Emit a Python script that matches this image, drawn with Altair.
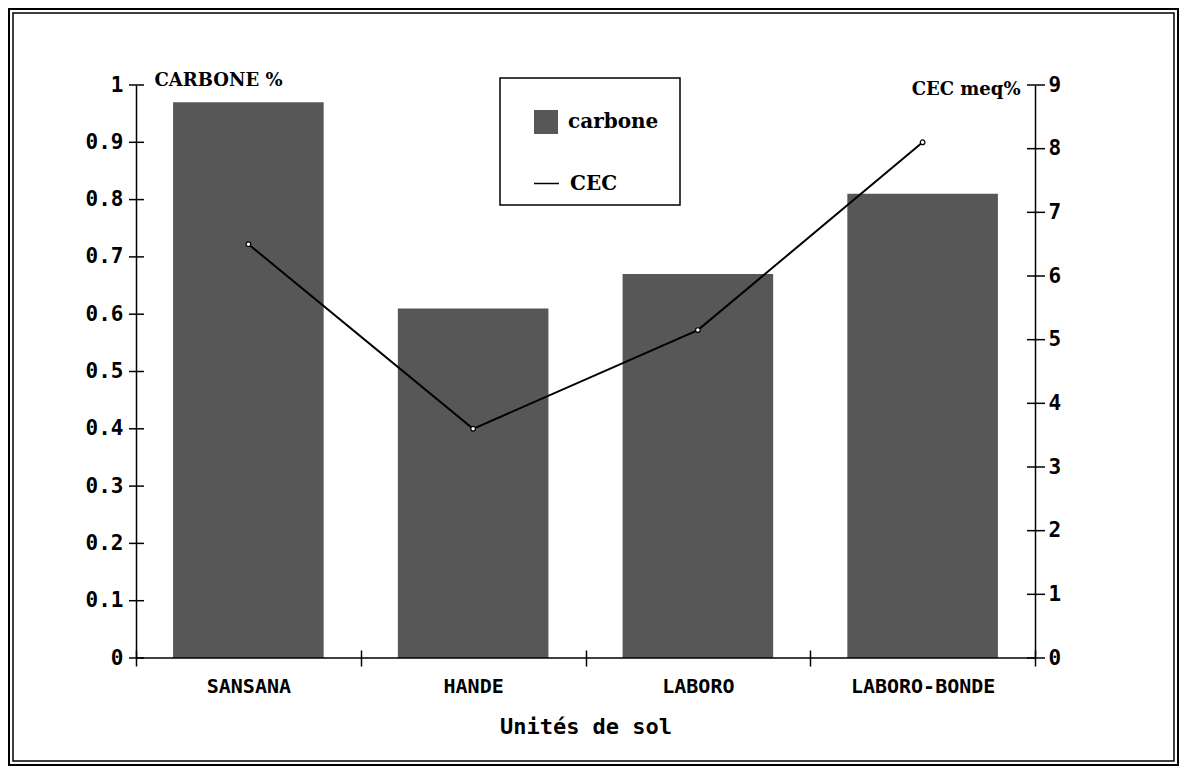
import altair as alt
import pandas as pd

# ---- data ----
units = ["SANSANA", "HANDE", "LABORO", "LABORO-BONDE"]
carbone = [0.97, 0.61, 0.67, 0.81]
cec = [6.5, 3.6, 5.15, 8.1]
left_ticks = [0, 0.1, 0.2, 0.3, 0.4, 0.5, 0.6, 0.7, 0.8, 0.9, 1]
right_ticks = [0, 1, 2, 3, 4, 5, 6, 7, 8, 9]

bars_df = pd.DataFrame({"unit": units, "carbone": carbone, "s": ["carbone"] * len(units)})
line_df = pd.DataFrame({"unit": units, "cec": cec, "s2": ["CEC"] * len(units)})
lt_df = pd.DataFrame({"carbone": left_ticks})
rt_df = pd.DataFrame({"cec": right_ticks})
one = pd.DataFrame({"k": [0]})

MONO = "DejaVu Sans Mono"
SERIF = "DejaVu Serif"

x_scale = alt.Scale(paddingInner=0, paddingOuter=0)
x_axis = alt.Axis(
    title="Unités de sol", domain=False, offset=-8, tickSize=16, tickBand="extent",
    tickWidth=1.5, tickColor="black", labelPadding=10, labelAngle=0,
    labelFont=MONO, labelFontSize=20, labelFontWeight="bold",
    titleY=76, titleBaseline="middle", titleFont=MONO, titleFontSize=22,
    titleFontWeight="bold",
)
X = alt.X("unit:N", sort=units, scale=x_scale, axis=x_axis)

# outer double frame and legend box
frame_outer = alt.Chart(one).mark_rect(fillOpacity=0, stroke="black", strokeWidth=2).encode(
    x=alt.value(-127), x2=alt.value(1042), y=alt.value(-76), y2=alt.value(680))
frame_inner = alt.Chart(one).mark_rect(fillOpacity=0, stroke="black", strokeWidth=1.5).encode(
    x=alt.value(-123), x2=alt.value(1038), y=alt.value(-72), y2=alt.value(676))
legend_box = alt.Chart(one).mark_rect(fillOpacity=0, stroke="black", strokeWidth=1.5).encode(
    x=alt.value(364), x2=alt.value(544), y=alt.value(-7), y2=alt.value(120))

bars = alt.Chart(bars_df).mark_bar(color="#575757", width=alt.RelativeBandSize(0.67)).encode(
    x=X,
    y=alt.Y("carbone:Q", scale=alt.Scale(domain=[0, 1]),
            axis=alt.Axis(values=left_ticks, format="~g", ticks=False, labelPadding=13,
                          title="CARBONE %", titleAngle=0, titleAlign="left",
                          titleBaseline="middle", titleX=18, titleY=-5,
                          titleFont=SERIF, titleFontSize=18, titleFontWeight="bold")),
    fill=alt.Fill("s:N", scale=alt.Scale(domain=["carbone"], range=["#575757"]),
                  legend=alt.Legend(orient="none", legendX=398, legendY=25, title=None,
                                    symbolType="square", symbolSize=576, symbolStrokeWidth=0,
                                    labelOffset=10, padding=0, labelFont=SERIF,
                                    labelFontSize=20, labelFontWeight="bold",
                                    labelColor="black")),
)

baseline = alt.Chart(one).mark_rule(color="black", strokeWidth=1.5).encode(y=alt.datum(0))

lticks = alt.Chart(lt_df).mark_rule(strokeWidth=1.5, color="black").encode(
    y=alt.Y("carbone:Q"), x=alt.value(-7), x2=alt.value(8))

line = alt.Chart(line_df).mark_line(
    color="black", strokeWidth=2,
    point=alt.OverlayMarkDef(filled=True, fill="white", stroke="black", strokeWidth=1.2, size=22),
).encode(
    x=X,
    y=alt.Y("cec:Q", scale=alt.Scale(domain=[0, 9]),
            axis=alt.Axis(orient="right", values=right_ticks, format="~g", ticks=False,
                          labelPadding=13, title="CEC meq%", titleAngle=0, titleAlign="right",
                          titleBaseline="middle", titleX=-15, titleY=4,
                          titleFont=SERIF, titleFontSize=18, titleFontWeight="bold")),
    stroke=alt.Stroke("s2:N", scale=alt.Scale(domain=["CEC"], range=["black"]),
                      legend=alt.Legend(orient="none", legendX=397, legendY=85, title=None,
                                        symbolType="stroke", symbolSize=625,
                                        symbolStrokeWidth=1.5, labelOffset=10, padding=0,
                                        labelFont=SERIF, labelFontSize=20,
                                        labelFontWeight="bold", labelColor="black")),
)

rticks = alt.Chart(rt_df).mark_rule(strokeWidth=1.5, color="black").encode(
    y=alt.Y("cec:Q"), x=alt.value(891), x2=alt.value(909))

left = alt.layer(frame_outer, frame_inner, legend_box, bars, baseline, lticks)
right = alt.layer(line, rticks)

chart = alt.layer(left, right).resolve_scale(y="independent").properties(
    width=899, height=573,
    autosize=alt.AutoSizeParams(type="none"),
    padding={"left": 128, "top": 77, "right": 144, "bottom": 108},
).configure_view(stroke=None).configure_axis(
    labelFont=MONO, labelFontSize=21, labelFontWeight="bold", labelColor="black",
    domainColor="black", domainWidth=1.5, titleColor="black", grid=False,
)

chart.save("out.html", embed_options={"renderer": "svg", "actions": False})
